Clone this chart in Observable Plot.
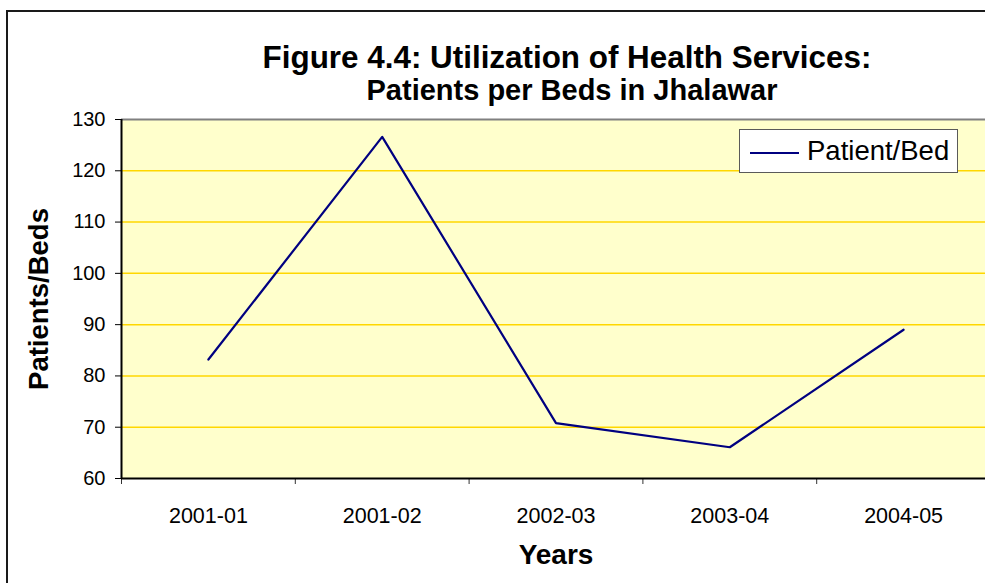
<!DOCTYPE html>
<html><head><meta charset="utf-8">
<script src="https://cdn.jsdelivr.net/npm/d3@7"></script>
<script src="https://cdn.jsdelivr.net/npm/@observablehq/plot@0.6"></script>
<style>
html,body{margin:0;padding:0;background:#fff;overflow:hidden;}
#wrap{position:relative;width:985px;height:583px;overflow:hidden;font-family:"Liberation Sans",Arial,sans-serif;}
#frame{position:absolute;left:6px;top:10px;width:2000px;height:2000px;border:2px solid #1a1a1a;box-sizing:border-box;}
#chart{position:absolute;left:0;top:0;width:1000px;}
#chart svg{max-width:none !important;}
.ttl{position:absolute;white-space:nowrap;font-weight:bold;color:#000;transform:translateX(-50%);line-height:1;}
#title{left:567px;top:42px;font-size:31.4px;}
#subtitle{left:572px;top:76px;font-size:29px;}
#legend{position:absolute;left:739px;top:129px;width:219px;height:44px;box-sizing:border-box;border:1px solid #5a5a5a;background:#fff;}
#legend .sw{position:absolute;left:10px;top:22px;width:49px;height:2px;background:#000080;}
#legend .tx{position:absolute;left:67px;top:7px;font-size:27.5px;line-height:1;color:#000;white-space:nowrap;}
</style></head><body>
<div id="wrap">
  <div id="frame"></div>
  <div id="chart"></div>
  <div id="title" class="ttl">Figure 4.4: Utilization of Health Services:</div>
  <div id="subtitle" class="ttl">Patients per Beds in Jhalawar</div>
  <div id="legend"><div class="sw"></div><div class="tx">Patient/Bed</div></div>
</div>
<script>
const years = ["2001-01", "2001-02", "2002-03", "2003-04", "2004-05"];
const patientsPerBed = [83.2, 126.6, 70.8, 66.1, 89.0];
const yTicks = [60, 70, 80, 90, 100, 110, 120, 130];
const seriesName = "Patient/Bed";

const data = years.map((y, i) => ({i, year: y, value: patientsPerBed[i]}));
const idx = years.map((_, i) => i);
const bounds = [-0.5, ...idx.map(i => i + 0.5)];

const chart = Plot.plot({
  width: 1000,
  height: 583,
  marginTop: 119,
  marginBottom: 105,
  marginLeft: 121,
  marginRight: 10,
  x: {type: "linear", domain: [-0.5, years.length - 0.5]},
  y: {domain: [60, 130]},
  style: {fontFamily: "'Liberation Sans', Arial, sans-serif", background: "transparent", color: "#000", maxWidth: "none"},
  marks: [
    Plot.frame({fill: "#FFFFCC", stroke: null}),
    Plot.ruleY(yTicks.filter(v => v > 60 && v < 130), {stroke: "#FFD700", strokeWidth: 1.5}),
    Plot.ruleY([130], {stroke: "#808080", strokeWidth: 2}),
    Plot.line(data, {x: "i", y: "value", stroke: "#000080", strokeWidth: 2.2}),
    Plot.axisY({ticks: yTicks, tickSize: 6, tickPadding: 10, fontSize: 20, label: null, stroke: "#000"}),
    Plot.axisX({ticks: bounds, tickSize: 6, tickFormat: () => "", label: null, stroke: "#333"}),
    Plot.axisX({ticks: idx, tickSize: 0, tickPadding: 29, tickFormat: i => years[i], fontSize: 21.5, label: null}),
    Plot.ruleX([-0.5], {stroke: "#000", strokeWidth: 2}),
    Plot.ruleY([60], {stroke: "#000", strokeWidth: 2}),
    Plot.text(["Patients/Beds"], {frameAnchor: "left", dx: -82, rotate: -90, textAnchor: "middle", lineAnchor: "middle", fontSize: 27.5, fontWeight: "bold", fill: "#000"}),
    Plot.text(["Years"], {frameAnchor: "bottom", dy: 77, lineAnchor: "middle", fontSize: 28, fontWeight: "bold", fill: "#000"})
  ]
});
document.getElementById("chart").appendChild(chart);
</script>
</body></html>
